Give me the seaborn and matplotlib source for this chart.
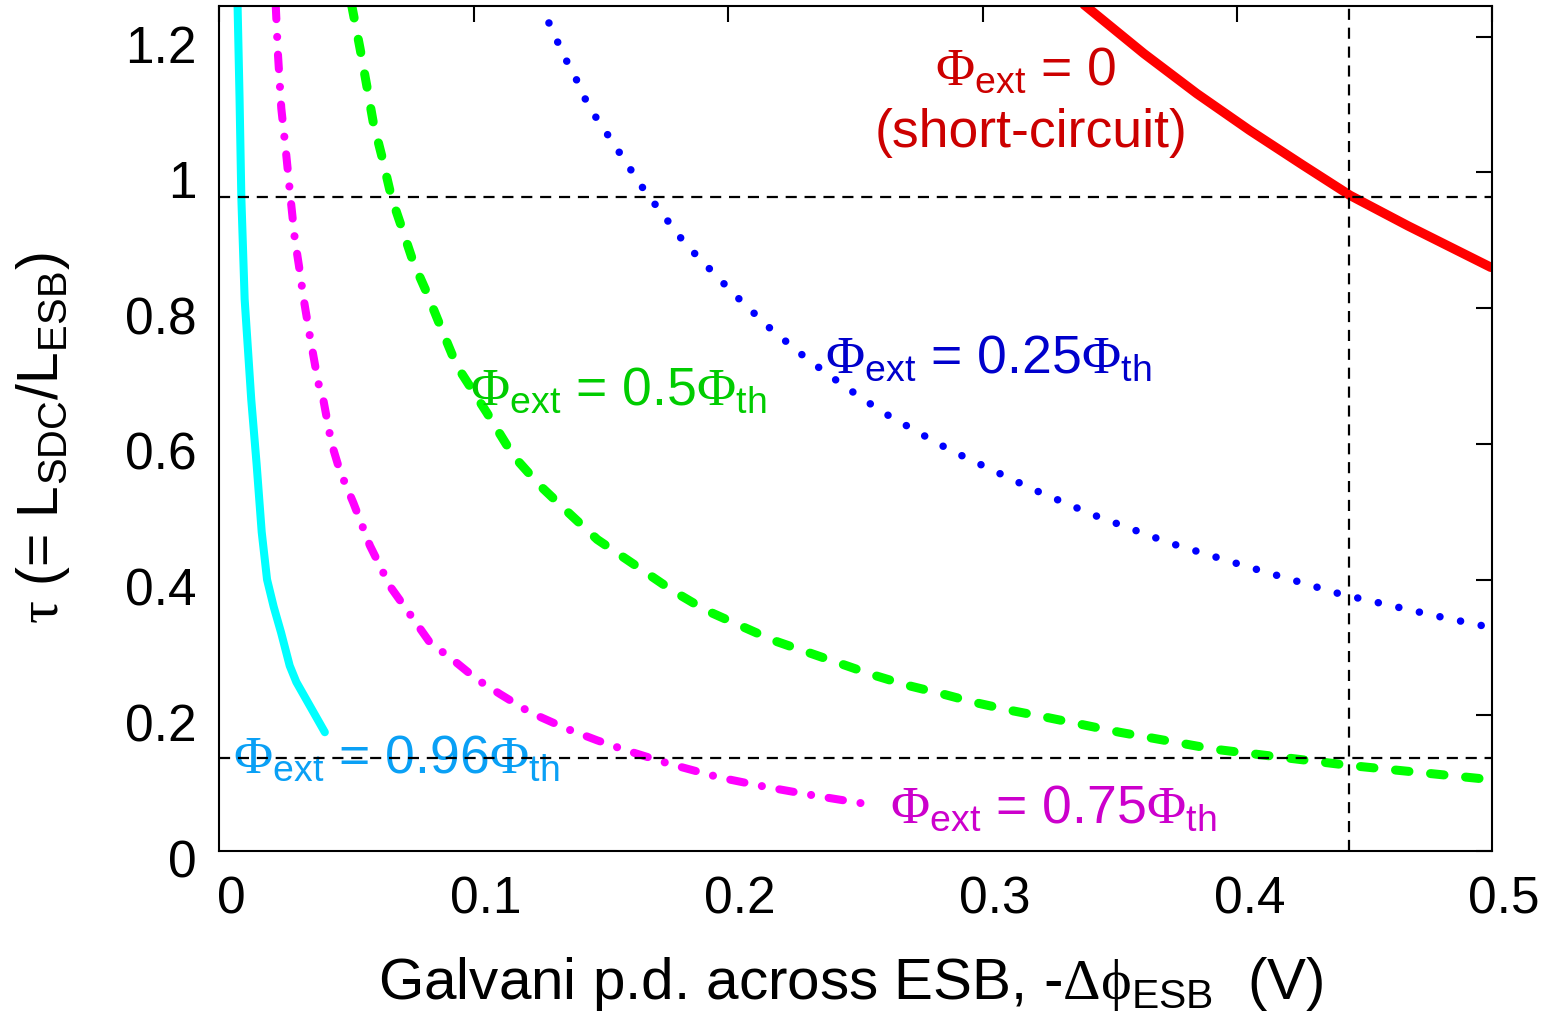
import matplotlib.pyplot as plt
import matplotlib.transforms as mtransforms
import seaborn as sns

# tau = L_SDC/L_ESB vs Galvani p.d. (-dphi_ESB, V)
# Phi_ext = 0 (short-circuit)
x_short = [0.3398, 0.3633, 0.3841, 0.4048, 0.4256, 0.4443, 0.4671, 0.4996]
tau_short = [1.247, 1.175, 1.116, 1.062, 1.011, 0.966, 0.921, 0.860]

# Phi_ext = 0.25 Phi_th
x_025 = [0.1275, 0.1289, 0.1322, 0.1357, 0.1398, 0.1430, 0.1472, 0.1524, 0.1672,
         0.1831, 0.2022, 0.2156, 0.2307, 0.2456, 0.2605, 0.2831, 0.2904, 0.3203,
         0.3436, 0.3733, 0.4030, 0.4401, 0.4773, 0.5000]
tau_025 = [1.250, 1.226, 1.199, 1.170, 1.142, 1.114, 1.086, 1.057, 0.973,
           0.895, 0.821, 0.773, 0.726, 0.685, 0.647, 0.599, 0.585, 0.532,
           0.495, 0.454, 0.420, 0.379, 0.347, 0.329]

# Phi_ext = 0.5 Phi_th
x_05 = [0.0521, 0.0554, 0.0580, 0.0606, 0.0639, 0.0678, 0.0724, 0.0764, 0.0816,
        0.0869, 0.0934, 0.1052, 0.1157, 0.1262, 0.1380, 0.1486, 0.1537, 0.1655,
        0.1780, 0.1911, 0.2042, 0.2180, 0.2311, 0.2442, 0.2573, 0.2705, 0.2836,
        0.2967, 0.3112, 0.3250, 0.3381, 0.3537, 0.3910, 0.4443, 0.5000]
tau_05 = [1.247, 1.183, 1.129, 1.074, 1.025, 0.963, 0.912, 0.867, 0.823,
          0.774, 0.715, 0.646, 0.582, 0.538, 0.496, 0.459, 0.446, 0.416,
          0.384, 0.355, 0.333, 0.310, 0.293, 0.276, 0.259, 0.244, 0.232,
          0.219, 0.207, 0.197, 0.187, 0.175, 0.150, 0.126, 0.105]

# Phi_ext = 0.75 Phi_th
x_075 = [0.0223, 0.0232, 0.0245, 0.0262, 0.0281, 0.0298, 0.0314, 0.0333, 0.0357,
         0.0390, 0.0410, 0.0442, 0.0475, 0.0528, 0.0593, 0.0672, 0.0750, 0.0829,
         0.0915, 0.1013, 0.1105, 0.1223, 0.1367, 0.1486, 0.1602, 0.1773, 0.1970,
         0.2154, 0.2350, 0.2547, 0.2573]
tau_075 = [1.247, 1.173, 1.094, 1.035, 0.963, 0.902, 0.863, 0.813, 0.759,
           0.690, 0.665, 0.601, 0.560, 0.513, 0.450, 0.390, 0.349, 0.307,
           0.283, 0.253, 0.231, 0.204, 0.180, 0.163, 0.148, 0.128, 0.108,
           0.094, 0.081, 0.069, 0.0665]

# Phi_ext = 0.96 Phi_th
x_096 = [0.0073, 0.0081, 0.0088, 0.0101, 0.0127, 0.0148, 0.0168, 0.0189, 0.0215,
         0.0244, 0.0278, 0.0304, 0.0357, 0.0416]
tau_096 = [1.250, 1.109, 0.963, 0.813, 0.665, 0.570, 0.470, 0.400, 0.360,
           0.322, 0.273, 0.249, 0.214, 0.175]

# guide lines
tau_hi = 0.963
tau_lo = 0.137
x_mark = 0.444

x_ticks = [0, 0.1, 0.2, 0.3, 0.4, 0.5]
x_ticklabels = ['0', '0.1', '0.2', '0.3', '0.4', '0.5']
y_ticks = [0, 0.2, 0.4, 0.6, 0.8, 1.0, 1.2]
y_ticklabels = ['0', '0.2', '0.4', '0.6', '0.8', '1', '1.2']

sns.set_style('white')
plt.rcParams['font.family'] = ['Liberation Sans', 'DejaVu Sans']
plt.rcParams['mathtext.fontset'] = 'custom'
plt.rcParams['mathtext.rm'] = 'Liberation Sans'
plt.rcParams['mathtext.it'] = 'Liberation Sans:italic'
plt.rcParams['mathtext.bf'] = 'Liberation Sans:bold'
plt.rcParams['mathtext.sf'] = 'Liberation Serif'

fig = plt.figure(figsize=(15.56, 10.2), dpi=100)
ax = fig.add_axes([0.1407, 0.1647, 0.8181, 0.8284])

sns.lineplot(x=x_short, y=tau_short, color='#ff0000', lw=6.8, ax=ax,
             estimator=None, sort=False, solid_capstyle='round')
sns.lineplot(x=x_025, y=tau_025, color='#0000ff', lw=5.4, ax=ax,
             estimator=None, sort=False, linestyle=(0, (0.01, 2.8)),
             dash_capstyle='round')
sns.lineplot(x=x_05, y=tau_05, color='#00ff00', lw=6.5, ax=ax,
             estimator=None, sort=False, linestyle=(0, (1.5, 2.4)),
             dash_capstyle='round')
sns.lineplot(x=x_075, y=tau_075, color='#ff00ff', lw=5.8, ax=ax,
             estimator=None, sort=False,
             linestyle=(0, (1.8, 2.2, 0.01, 2.2)), dash_capstyle='round')
sns.lineplot(x=x_096, y=tau_096, color='#00ffff', lw=5.8, ax=ax,
             estimator=None, sort=False, solid_capstyle='round',
             solid_joinstyle='round')

# dashed guides sit on top of curves and labels
ax.axhline(tau_hi, color='k', lw=1.6, ls=(0, (5, 3.5)), zorder=6)
ax.axhline(tau_lo, color='k', lw=1.6, ls=(0, (5, 3.5)), zorder=6)
ax.axvline(x_mark, color='k', lw=1.6, ls=(0, (5, 3.5)), zorder=6)

fs = 38.5
ax.text(0.317, 1.131, r'$\mathsf{\Phi}_\mathrm{ext}$ = 0', color='#cc0000',
        fontsize=fs, ha='center', va='baseline')
ax.text(0.319, 1.039, '(short-circuit)', color='#cc0000',
        fontsize=fs, ha='center', va='baseline')
ax.text(0.238, 0.706, r'$\mathsf{\Phi}_\mathrm{ext}$ = 0.25$\mathsf{\Phi}_\mathrm{th}$',
        color='#0000cc', fontsize=fs, ha='left', va='baseline')
ax.text(0.0986, 0.659, r'$\mathsf{\Phi}_\mathrm{ext}$ = 0.5$\mathsf{\Phi}_\mathrm{th}$',
        color='#00cc00', fontsize=fs, ha='left', va='baseline')
ax.text(0.2636, 0.044, r'$\mathsf{\Phi}_\mathrm{ext}$ = 0.75$\mathsf{\Phi}_\mathrm{th}$',
        color='#cc00cc', fontsize=fs, ha='left', va='baseline')
ax.text(0.0055, 0.1165, r'$\mathsf{\Phi}_\mathrm{ext}$ = 0.96$\mathsf{\Phi}_\mathrm{th}$',
        color='#0aa0f5', fontsize=fs, ha='left', va='baseline')

ax.set_xlim(0, 0.5)
ax.set_ylim(0, 1.245)
ax.set_xticks(x_ticks)
ax.set_xticklabels(x_ticklabels)
ax.set_yticks(y_ticks)
ax.set_yticklabels(y_ticklabels)
ax.tick_params(direction='in', length=11.5, width=1.5, top=True, right=True,
               labelsize=37, colors='k')
ax.tick_params(axis='x', pad=17)
ax.tick_params(axis='y', pad=16)

# gnuplot-style labels sit a little off their ticks
x_off = mtransforms.ScaledTranslation(0.12, 0, fig.dpi_scale_trans)
for lab in ax.get_xticklabels():
    lab.set_transform(lab.get_transform() + x_off)
y_off = mtransforms.ScaledTranslation(0, -0.06, fig.dpi_scale_trans)
for lab in ax.get_yticklabels():
    lab.set_transform(lab.get_transform() + y_off)

for s in ax.spines.values():
    s.set_linewidth(1.5)
    s.set_color('k')

ax.set_xlabel(r'Galvani p.d. across ESB, -$\mathsf{\Delta\phi}_\mathrm{ESB}$  (V)',
              fontsize=42, color='k')
ax.xaxis.set_label_coords(0.496, -0.122)
ax.set_ylabel(r'$\mathsf{\tau}$ (= L$_\mathrm{SDC}$/L$_\mathrm{ESB}$)',
              fontsize=41, va='center', color='k')
ax.yaxis.set_label_coords(-0.138, 0.49)

fig.savefig('out.png', dpi=100, facecolor='white')
